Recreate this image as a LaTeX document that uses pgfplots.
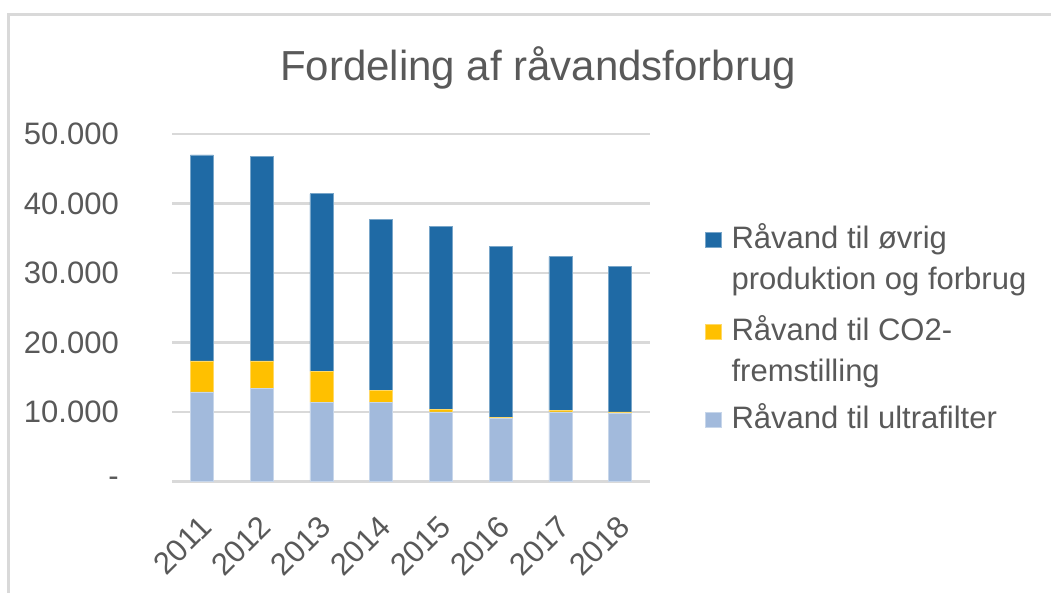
\documentclass[border=0pt]{standalone}
\usepackage{pgfplots}
\pgfplotsset{compat=1.18}
\usepackage{fontspec}
\setmainfont{Liberation Sans}
\definecolor{txt}{HTML}{595959}
\definecolor{dblue}{HTML}{1F6AA5}
\definecolor{gold}{HTML}{FFC000}
\definecolor{lblue}{HTML}{A2BADC}
\definecolor{gridc}{HTML}{D9D9D9}
\pgfplotsset{
  oneline/.style={legend image code/.code={\fill[##1] (0pt,1pt) rectangle (16pt,16pt);}},
  twoline/.style={legend image code/.code={\fill[##1] (0pt,42pt) rectangle (16pt,57pt);}},
}
\begin{document}
\begin{tikzpicture}[x=1pt,y=1pt]
\path[use as bounding box] (0,0) rectangle (1051,593);
\draw[gridc, line width=3pt] (8.5,0) -- (8.5,578.5) -- (1051,578.5);
\node[text=txt, font=\fontsize{42}{50}\selectfont, anchor=base, inner sep=0pt] at (538,512) {Fordeling af råvandsforbrug};
\begin{axis}[
  at={(172pt,111.5pt)}, anchor=south west,
  scale only axis, width=478pt, height=347.5pt,
  ymin=0, ymax=50000, xmin=-0.5, xmax=7.5,
  scaled y ticks=false,
  ybar stacked, bar width=23pt,
  axis line style={draw=none},
  major tick length=0pt,
  ymajorgrids, grid style={gridc, line width=2.2pt},
  ytick={0,10000,20000,30000,40000,50000},
  yticklabels={-,10.000,20.000,30.000,40.000,50.000},
  xtick={0,1,2,3,4,5,6,7},
  xticklabels={2011,2012,2013,2014,2015,2016,2017,2018},
  tick label style={text=txt, font=\fontsize{31}{37}\selectfont, inner sep=0pt},
  yticklabel style={anchor=east, xshift=-53pt},
  xticklabel style={rotate=45, anchor=east, xshift=-25.5pt, yshift=-31.1pt},
  reverse legend,
  legend style={at={(axis description cs:1.1151,0.7545)}, anchor=north west,
    draw=none, fill=none, inner sep=0pt, outer sep=0pt,
    row sep=21pt, column sep=10pt,
    font=\fontsize{31}{41}\selectfont, text=txt,
    nodes={inner sep=0pt}, cells={anchor=base west}},
]
\addplot[fill=lblue, draw=lblue!60!white, line width=0.6pt, oneline] coordinates {
 (0,12900) (1,13400) (2,11400) (3,11400) (4,10000) (5,9050) (6,10000) (7,9850)};
\addlegendentry{Råvand til ultrafilter}
\addplot[fill=gold, draw=gold!60!white, line width=0.6pt, twoline] coordinates {
 (0,4450) (1,3950) (2,4450) (3,1700) (4,430) (5,190) (6,240) (7,150)};
\addlegendentry{\begin{tabular}[b]{@{}l@{}}Råvand til CO2-\\fremstilling\end{tabular}}
\addplot[fill=dblue, draw=dblue!60!white, line width=0.6pt, twoline] coordinates {
 (0,29650) (1,29450) (2,25550) (3,24650) (4,26320) (5,24610) (6,22110) (7,20900)};
\addlegendentry{\begin{tabular}[b]{@{}l@{}}Råvand til øvrig\\produktion og forbrug\end{tabular}}
\end{axis}
\end{tikzpicture}
\end{document}
